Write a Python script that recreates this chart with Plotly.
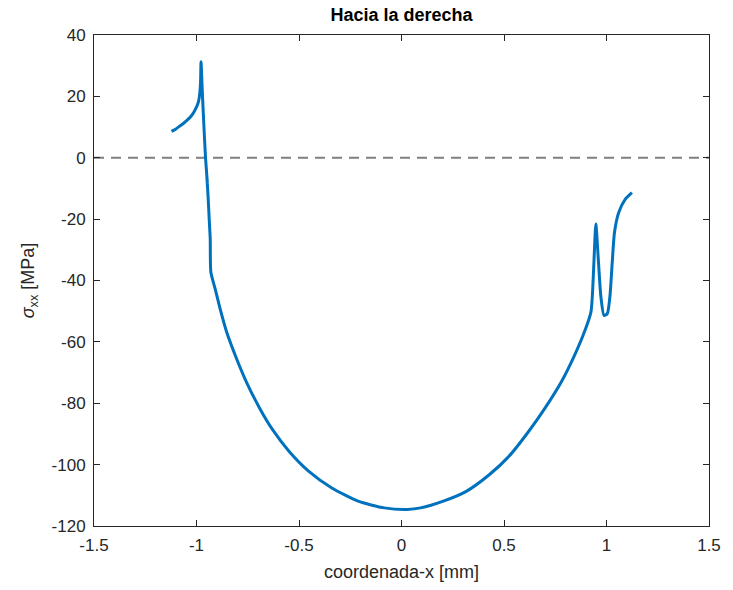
import plotly.graph_objects as go

# Curve (x in mm, sigma_xx in MPa)
x_vals = [-1.122, -1.100, -1.082, -1.060, -1.043, -1.025, -1.011, -0.998,
          -0.990, -0.984, -0.980, -0.978,
          -0.971, -0.964, -0.956, -0.947, -0.952, -0.944, -0.938, -0.933,
          -0.930, -0.909, -0.885, -0.853, -0.805, -0.757, -0.692, -0.628,
          -0.548, -0.452, -0.340, -0.212, -0.084, 0.029, 0.093, 0.204,
          0.316, 0.428, 0.524, 0.620, 0.700, 0.780, 0.844, 0.892,
          0.924, 0.932, 0.940, 0.948,
          0.961, 0.972, 0.988, 1.004, 1.017, 1.028, 1.039,
          1.060, 1.092, 1.124]
y_vals = [8.6, 9.4, 10.3, 11.4, 12.4, 13.7, 15.1, 16.8,
          18.4, 21.0, 25.0, 31.3,
          20.5, 10.5, 0.0, -8.1, -3.5, -12.0, -20.0, -26.5,
          -37.3, -42.7, -49.2, -56.8, -65.4, -73.0, -81.6, -88.7,
          -95.7, -102.2, -107.6, -111.9, -114.1, -114.6, -114.1, -111.9,
          -108.7, -103.3, -97.3, -89.2, -81.6, -73.0, -64.4, -56.8,
          -50.3, -43.8, -31.9, -21.6,
          -34.1, -44.9, -51.4, -50.8, -44.9, -34.1, -24.3,
          -17.8, -13.5, -11.4]

zero_x = [-1.5, 1.5]
zero_y = [0, 0]

x_ticks = [-1.5, -1, -0.5, 0, 0.5, 1, 1.5]
x_ticktext = ["-1.5", "-1", "-0.5", "0", "0.5", "1", "1.5"]
y_ticks = [40, 20, 0, -20, -40, -60, -80, -100, -120]
y_ticktext = ["40", "20", "0", "-20", "-40", "-60", "-80", "-100", "-120"]

font_family = "Liberation Sans, Arial, sans-serif"
axis_col = "#262626"

fig = go.Figure()
fig.add_trace(go.Scatter(x=zero_x, y=zero_y, mode="lines",
                         line=dict(color="#7f7f7f", width=2, dash="10px,7px"),
                         showlegend=False, hoverinfo="skip"))
fig.add_trace(go.Scatter(x=x_vals, y=y_vals, mode="lines",
                         line=dict(color="#0072BD", width=3, shape="spline", smoothing=0.6),
                         showlegend=False))

fig.update_layout(
    width=733, height=590,
    margin=dict(l=94, r=15, t=35, b=62),
    paper_bgcolor="white", plot_bgcolor="white",
    font=dict(family=font_family, size=17, color=axis_col),
    title=dict(text="<b>Hacia la derecha</b>", x=0.5, xanchor="center",
               xref="paper", y=1, yref="container", yanchor="top", pad=dict(t=8),
               font=dict(size=18, color="black", family=font_family)),
)
fig.update_xaxes(range=[-1.5, 1.5], tickvals=x_ticks, ticktext=x_ticktext,
                 ticks="inside", ticklen=6, tickcolor=axis_col, mirror="ticks",
                 showline=True, linecolor=axis_col, linewidth=1, showgrid=False,
                 zeroline=False, tickfont=dict(size=17, color=axis_col),
                 ticklabelstandoff=4,
                 title=dict(text="coordenada-x [mm]", font=dict(size=18, color=axis_col), standoff=10))
fig.update_yaxes(range=[-120, 40], tickvals=y_ticks, ticktext=y_ticktext,
                 ticks="inside", ticklen=6, tickcolor=axis_col, mirror="ticks",
                 showline=True, linecolor=axis_col, linewidth=1, showgrid=False,
                 zeroline=False, tickfont=dict(size=17, color=axis_col),
                 ticklabelstandoff=4,
                 title=dict(text="<i>σ</i><sub>xx</sub> [MPa]", font=dict(size=18, color=axis_col), standoff=12))

fig.write_html("out.html")
